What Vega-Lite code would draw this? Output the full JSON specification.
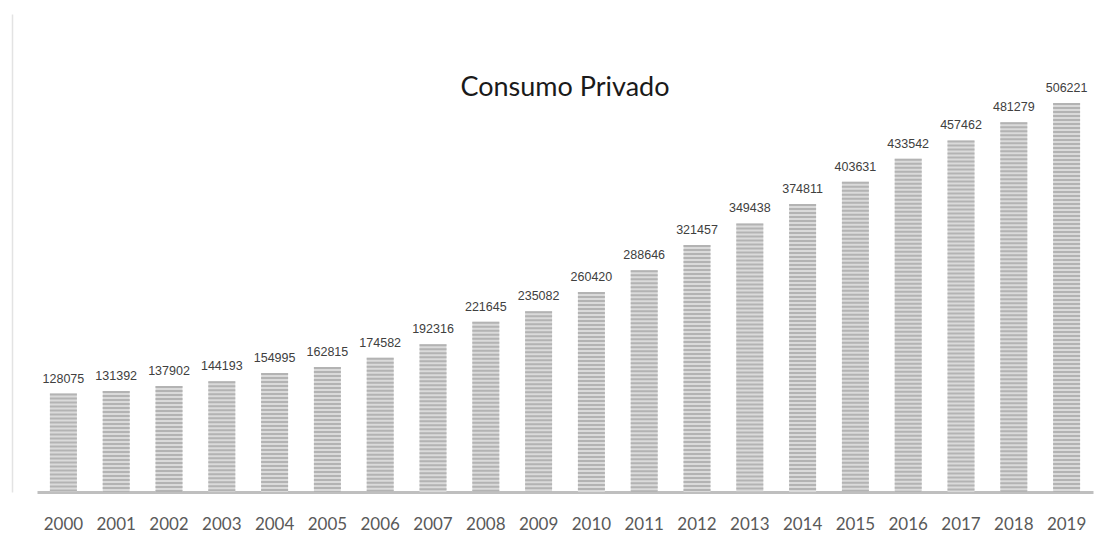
{
  "$schema": "https://vega.github.io/schema/vega-lite/v6.json",
  "width": 1056,
  "height": 478,
  "autosize": {"type": "none"},
  "padding": {"left": 37, "top": 14, "right": 14, "bottom": 49},
  "background": "white",
  "title": {"text": "Consumo Privado", "font": "Lato", "fontSize": 27, "fontWeight": "normal", "color": "#1a1a1a", "anchor": "middle", "dy": 88, "offset": 0},
  "config": {"view": {"stroke": null}},
  "data": {"values": [
    {"year": "2000", "value": 128075},
    {"year": "2001", "value": 131392},
    {"year": "2002", "value": 137902},
    {"year": "2003", "value": 144193},
    {"year": "2004", "value": 154995},
    {"year": "2005", "value": 162815},
    {"year": "2006", "value": 174582},
    {"year": "2007", "value": 192316},
    {"year": "2008", "value": 221645},
    {"year": "2009", "value": 235082},
    {"year": "2010", "value": 260420},
    {"year": "2011", "value": 288646},
    {"year": "2012", "value": 321457},
    {"year": "2013", "value": 349438},
    {"year": "2014", "value": 374811},
    {"year": "2015", "value": 403631},
    {"year": "2016", "value": 433542},
    {"year": "2017", "value": 457462},
    {"year": "2018", "value": 481279},
    {"year": "2019", "value": 506221}
  ]},
  "encoding": {
    "x": {"field": "year", "type": "nominal", "sort": null,
      "scale": {"paddingInner": 0.49, "paddingOuter": 0.245},
      "axis": {"title": null, "labelAngle": 0, "ticks": false, "domain": true, "domainColor": "#bfbfbf", "domainWidth": 3,
        "labelFont": "Lato", "labelFontSize": 17, "labelColor": "#595959", "labelPadding": 24}},
    "y": {"field": "value", "type": "quantitative", "scale": {"domain": [0, 622040], "nice": false},
      "axis": {"title": null, "labels": false, "ticks": false, "grid": false, "domain": true, "domainColor": "#e3e3e3", "domainWidth": 1.5, "offset": 25}}
  },
  "layer": [
    {"mark": {"type": "bar", "color": "#dadada"}},
    {"mark": {"type": "rule", "color": "#b3b3b3", "strokeWidth": 27, "strokeDash": [2, 2], "strokeCap": "butt"},
     "encoding": {"y2": {"datum": 0}}},
    {"mark": {"type": "text", "font": "Liberation Sans", "fontSize": 12.5, "color": "#404040", "baseline": "bottom", "dy": -8},
     "encoding": {"text": {"field": "value", "type": "quantitative", "format": "d"}}}
  ]
}
